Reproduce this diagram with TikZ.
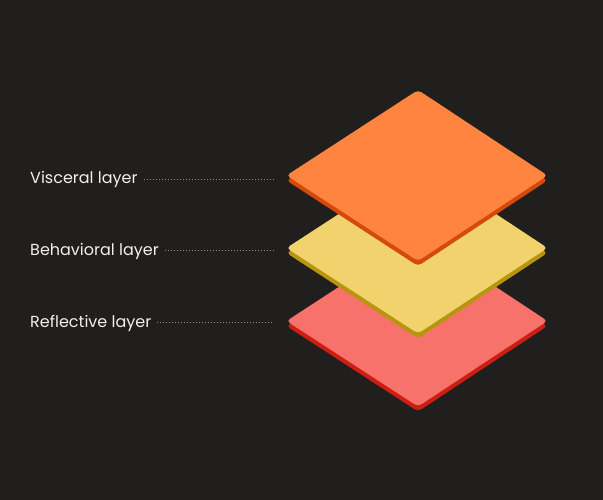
\documentclass[tikz,border=0pt]{standalone}
\usepackage{fontspec}
\setmainfont{Poppins}
\definecolor{bg}{HTML}{201F1E}
\definecolor{oface}{HTML}{FF843F}
\definecolor{oedge}{HTML}{D6480C}
\definecolor{yface}{HTML}{F2D26C}
\definecolor{yedge}{HTML}{B8950F}
\definecolor{rface}{HTML}{F7726A}
\definecolor{redge}{HTML}{CC1E12}
\definecolor{lbl}{HTML}{F0F0F0}
\definecolor{dots}{HTML}{8C8C8C}
\tikzset{
  lab/.style={text=lbl, font=\fontsize{16}{19}\selectfont, anchor=west, inner sep=0pt},
  leader/.style={draw=dots, line width=0.9pt, dash pattern=on 1pt off 2pt},
}
\newcommand{\plate}[4]{%
  % #1 center y, #2 face color, #3 edge color, #4 name
  \fill[#3, rounded corners=4pt] (418,#1-85.5+5) -- (547.5,#1+5) -- (418,#1+85.5+5) -- (286.5,#1+5) -- cycle;
  \fill[#2, rounded corners=4pt] (418,#1-85.5) -- (547.5,#1) -- (418,#1+85.5) -- (286.5,#1) -- cycle;
  \coordinate (#4) at (287,#1);
}
\begin{document}
\begin{tikzpicture}[x=1pt,y=-1pt]
\fill[bg] (0,0) rectangle (603,500);
\useasboundingbox (0,0) rectangle (603,500);
\plate{321}{rface}{redge}{rl}
\plate{248}{yface}{yedge}{bl}
\plate{175.5}{oface}{oedge}{vl}
\node[lab] (vt) at (30,179.5) {Visceral layer};
\node[lab] (bt) at (30,251) {Behavioral layer};
\node[lab] (rt) at (30,323) {Reflective layer};
\coordinate (ve) at (273,179);
\coordinate (be) at (273,250);
\coordinate (re) at (273,322);
\draw[leader] ([xshift=6pt]vt.east |- ve) -- (ve);
\draw[leader] ([xshift=6pt]bt.east |- be) -- (be);
\draw[leader] ([xshift=6pt]rt.east |- re) -- (re);
\end{tikzpicture}
\end{document}
